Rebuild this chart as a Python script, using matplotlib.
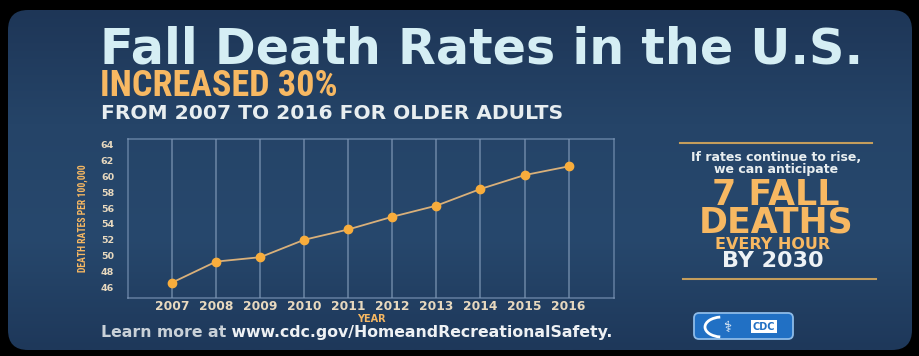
import matplotlib.pyplot as plt
import numpy as np
from matplotlib.patches import FancyBboxPatch, Arc
from matplotlib.colors import LinearSegmentedColormap

years = [2007, 2008, 2009, 2010, 2011, 2012, 2013, 2014, 2015, 2016]
rates = [46.6, 49.25, 49.8, 52.0, 53.3, 54.9, 56.3, 58.4, 60.15, 61.25]
yticks = [46, 48, 50, 52, 54, 56, 58, 60, 62, 64]

narrow = ['Roboto Condensed', 'Archivo Narrow', 'Oswald', 'DejaVu Sans']

W, H = 920, 356
fig = plt.figure(figsize=(W / 100, H / 100), dpi=100, facecolor='black')

# whole-figure axes in pixel coords for the infographic parts
bg = fig.add_axes([0, 0, 1, 1])
bg.set_xlim(0, W)
bg.set_ylim(H, 0)
bg.axis('off')
panel = FancyBboxPatch((8, 10), 904, 340, boxstyle='round,pad=0,rounding_size=20',
                       facecolor='none', edgecolor='none')
bg.add_patch(panel)
cmap = LinearSegmentedColormap.from_list('p', ['#1e3657', '#254468', '#27486d', '#1e385a'])
im = bg.imshow(np.linspace(0, 1, 256).reshape(-1, 1), extent=(8, 912, 350, 10),
               aspect='auto', cmap=cmap, zorder=0)
im.set_clip_path(panel)

light = '#d5eef4'
orange = '#f7b862'
cream = '#e8d9bf'

# headline
bg.text(100, 63, 'Fall Death Rates in the U.S.', color=light, fontsize=35.5,
        fontweight='bold', va='baseline', ha='left')
bg.text(100, 96, 'INCREASED 30%', color=orange, fontsize=26, fontweight='bold',
        family=narrow, va='baseline', ha='left')
bg.text(101, 119, 'FROM 2007 TO 2016 FOR OLDER ADULTS', color='#e8eef0', fontsize=14.6,
        fontweight='bold', va='baseline', ha='left')

# right-hand call-out
bg.plot([680, 872], [143, 143], color='#c49d5c', lw=1.5)
bg.plot([683, 876], [279, 279], color='#c49d5c', lw=1.5)
bg.text(776, 151, 'If rates continue to rise,\nwe can anticipate', color='#e8eef0',
        fontsize=9, fontweight='bold', ha='center', va='top', linespacing=0.85)
bg.text(776, 178, '7 FALL\nDEATHS', color=orange, fontsize=25, fontweight='bold',
        ha='center', va='top', linespacing=0.76)
bg.text(773, 249, 'EVERY HOUR', color=orange, fontsize=11.5, fontweight='bold',
        ha='center', va='baseline')
bg.text(773, 267, 'BY 2030', color='#eef2f5', fontsize=16, fontweight='bold',
        ha='center', va='baseline')

# CDC logo
bg.add_patch(FancyBboxPatch((694, 313), 99, 26, boxstyle='round,pad=0,rounding_size=5',
                            facecolor='#2170c4', edgecolor='#8dbbe8', lw=1.3))
bg.add_patch(Arc((722, 327), 34, 20, theta1=100, theta2=260, color='white', lw=2))
bg.text(727, 327, '\u2695', color='white', fontsize=11, ha='center', va='center')
bg.text(764, 326.5, 'CDC', color='#2170c4', fontsize=7, fontweight='bold', ha='center',
        va='center', bbox=dict(boxstyle='square,pad=0.2', fc='white', ec='none'))

# footer, two colours joined end to end
t1 = bg.text(101, 337, 'Learn more at', color='#c9d1d8', fontsize=11.3, fontweight='bold',
             ha='left', va='baseline')
bg.annotate(' www.cdc.gov/HomeandRecreationalSafety.', xy=(1, 0), xycoords=t1,
            color='#eef1f4', fontsize=11.3, fontweight='bold', ha='left', va='bottom')

# line chart
ax = fig.add_axes([128 / W, 1 - 298 / H, (614 - 128) / W, (298 - 139) / H])
ax.set_facecolor('none')
ax.plot(years, rates, color='#d9b07a', lw=1.3, marker='o', ms=6,
        markerfacecolor='#f8ad3c', markeredgecolor='#f8ad3c', zorder=3)
ax.set_xlim(2006.0, 2017.03)
ax.set_ylim(44.66, 64.7)
ax.set_xticks(years)
ax.set_yticks(yticks)
ax.xaxis.grid(True, color='#8aa3c0', lw=1.4, alpha=0.55)
ax.set_axisbelow(True)
for s in ax.spines.values():
    s.set_color('#7d97b8')
    s.set_linewidth(1.2)
    s.set_alpha(0.65)
ax.tick_params(length=0, colors=cream)
ax.tick_params(axis='x', labelsize=8.8, pad=1.5)
ax.tick_params(axis='y', labelsize=6.8, pad=10)
for lab in ax.get_xticklabels() + ax.get_yticklabels():
    lab.set_fontweight('bold')
ax.set_xlabel('YEAR', color=orange, fontsize=7, fontweight='bold', labelpad=0.5)
ax.set_ylabel('DEATH RATES PER 100,000', color=orange, fontsize=7, fontweight='bold',
              family=narrow, labelpad=9)

fig.savefig('out.png', dpi=100, facecolor='black')
